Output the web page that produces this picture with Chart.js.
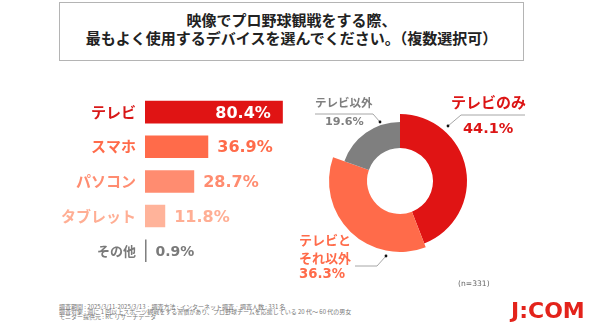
<!DOCTYPE html>
<html>
<head>
<meta charset="utf-8">
<script src="https://cdn.jsdelivr.net/npm/chart.js@4"></script>
<style>
  body { margin: 0; background: #fff; }
  #page { position: relative; width: 590px; height: 332px; overflow: hidden; font-family: 'Noto Sans CJK JP', sans-serif; }
  #title { position: absolute; left: 59px; top: 2px; width: 465px; height: 59px; box-sizing: border-box;
    border: 1.5px solid #b4b4b4; text-align: center; font-weight: bold; font-size: 15px; line-height: 18px;
    padding-top: 8px; color: #222; }
  #barCanvas { position: absolute; left: 0; top: 78px; }
  #pieCanvas { position: absolute; left: 290px; top: 90px; }
  #note { position: absolute; left: 59px; top: 303.5px; font-size: 6px; line-height: 5.2px; color: #777; white-space: nowrap; }
  #count { position: absolute; left: 458px; top: 280px; font-family: 'DejaVu Sans', sans-serif; font-size: 7.6px; line-height: 8px; color: #666; }
  #logo { position: absolute; left: 511px; top: 298px; font-family: 'DejaVu Sans', sans-serif; font-weight: bold; font-size: 22px; line-height: 26px; color: #e3231b; }
</style>
</head>
<body>
<div id="page">
  <div id="title">映像でプロ野球観戦をする際、<br>最もよく使用するデバイスを選んでください。（複数選択可）</div>
  <canvas id="barCanvas" width="301" height="208"></canvas>
  <canvas id="pieCanvas" width="250" height="200"></canvas>
  <div id="count">(n=331)</div>
  <div id="note">調査期間 : 2025/3/11-2025/3/13 · 調査方法 : インターネット調査 · 調査人数 : 331 名<br>調査対象 : 週に 1 回以上スポーツ観戦をする習慣があり、プロ野球チームを応援している 20 代～ 60 代の男女<br>モニター提供元 : RC リサーチデータ</div>
  <div id="logo">J:COM</div>
</div>
<script>
const barLabels = ['テレビ', 'スマホ', 'パソコン', 'タブレット', 'その他'];
const barValues = [80.4, 36.9, 28.7, 11.8, 0.9];
const barColors = ['#e01414', '#ff6b4a', '#ff8c70', '#ffb39a', '#808080'];
const labelColors = ['#d81818', '#ff6b4a', '#ff8c70', '#ffae94', '#7a7a7a'];

const pieLabels = ['テレビのみ', 'テレビとそれ以外', 'テレビ以外'];
const pieValues = [44.1, 36.3, 19.6];
const pieColors = ['#e01414', '#ff6b4a', '#7f7f7f'];
const pieTextLines = [['テレビのみ'], ['テレビと', 'それ以外'], ['テレビ以外']];

// each ring piece has its own outer radius in the original
const pieRadius = [67, 71, 59];
const pieHole = 33;

function pct(v) {
  return v.toFixed(1) + '%';
};

const barValuePlugin = {
  id: 'barValues',
  afterDatasetsDraw(chart) {
    let ctx = chart.ctx;
    let meta = chart.getDatasetMeta(0);
    ctx.save();
    ctx.textBaseline = 'middle';
    meta.data.forEach((bar, i) => {
      let last = i == barValues.length - 1;
      ctx.font = 'bold ' + (last ? 14 : 16) + "px 'DejaVu Sans'";
      if (i == 0) {
        ctx.fillStyle = '#fff';
        ctx.textAlign = 'right';
        ctx.fillText(pct(barValues[i]), bar.x - 12, bar.y + 1.5);
      } else {
        ctx.fillStyle = labelColors[i];
        ctx.textAlign = 'left';
        ctx.fillText(pct(barValues[i]), bar.x + 9, bar.y + 1.5);
      };
    });
    ctx.restore();
  }
};

new Chart(document.getElementById('barCanvas'), {
  type: 'bar',
  data: {
    labels: barLabels,
    datasets: [{
      data: barValues,
      backgroundColor: barColors,
      borderWidth: 0,
      barPercentage: 0.65,
      categoryPercentage: 1
    }]
  },
  options: {
    indexAxis: 'y',
    responsive: false,
    animation: false,
    events: [],
    layout: { padding: 0 },
    plugins: { legend: { display: false }, tooltip: { enabled: false } },
    scales: {
      x: { display: false, min: 0, max: 91 },
      y: {
        afterFit(scale) { scale.width = 145; },
        grid: { display: false, drawTicks: false },
        border: { display: false },
        ticks: {
          padding: 9,
          color: labelColors,
          font: (c) => c.index == 4
            ? { family: 'Noto Sans CJK JP', size: 13, weight: 'bold' }
            : { family: 'Noto Sans CJK JP', size: 15, weight: 'bold' }
        }
      }
    }
  },
  plugins: [barValuePlugin]
});

// leader lines and labels, offsets from the ring centre
const pieCallouts = [
  { dot: [48, -55], elbow: [61, -66], end: [125, -66], textX: 51, textY: [-79], valueX: 63, valueY: -52,
    font: 15, valueFont: 14.5, color: '#dc1515' },
  { dot: [-14, 75], elbow: [-23, 85], end: [-45, 85], textX: -101, textY: [59.5, 77], valueX: -101, valueY: 93.5,
    font: 13, valueFont: 13.3, color: '#ff6b4a' },
  { dot: [-20, -59], elbow: [-27, -67], end: [-85, -67], textX: -85, textY: [-78.5], valueX: -75, valueY: -58.5,
    font: 11.5, valueFont: 11.2, color: '#7f7f7f' }
];

const pieShapePlugin = {
  id: 'pieShape',
  beforeDatasetsDraw(chart) {
    let meta = chart.getDatasetMeta(0);
    meta.data.forEach((arc, i) => {
      arc.outerRadius = pieRadius[i];
      arc.innerRadius = pieHole;
    });
  },
  afterDraw(chart) {
    let ctx = chart.ctx;
    let arc = chart.getDatasetMeta(0).data[0];
    let cx = arc.x;
    let cy = arc.y;
    ctx.save();
    pieCallouts.forEach((c, i) => {
      ctx.strokeStyle = '#a6a6a6';
      ctx.lineWidth = 1;
      ctx.beginPath();
      ctx.moveTo(cx + c.dot[0], cy + c.dot[1]);
      ctx.lineTo(cx + c.elbow[0], cy + c.elbow[1]);
      ctx.lineTo(cx + c.end[0], cy + c.end[1]);
      ctx.stroke();
      ctx.fillStyle = '#111';
      ctx.beginPath();
      ctx.arc(cx + c.dot[0], cy + c.dot[1], 1.4, 0, Math.PI * 2);
      ctx.fill();

      ctx.fillStyle = c.color;
      ctx.textAlign = 'left';
      ctx.textBaseline = 'middle';
      ctx.font = 'bold ' + c.font + "px 'Noto Sans CJK JP'";
      pieTextLines[i].forEach((line, j) => {
        ctx.fillText(line, cx + c.textX, cy + c.textY[j]);
      });
      ctx.font = 'bold ' + c.valueFont + "px 'DejaVu Sans'";
      ctx.fillText(pct(pieValues[i]), cx + c.valueX, cy + c.valueY);
    });
    ctx.restore();
  }
};

new Chart(document.getElementById('pieCanvas'), {
  type: 'doughnut',
  data: {
    labels: pieLabels,
    datasets: [{
      data: pieValues,
      backgroundColor: pieColors,
      borderWidth: 0
    }]
  },
  options: {
    responsive: false,
    animation: false,
    events: [],
    cutout: pieHole,
    layout: { padding: { left: 39, right: 69, top: 20, bottom: 38 } },
    plugins: { legend: { display: false }, tooltip: { enabled: false } }
  },
  plugins: [pieShapePlugin]
});
</script>
</body>
</html>
